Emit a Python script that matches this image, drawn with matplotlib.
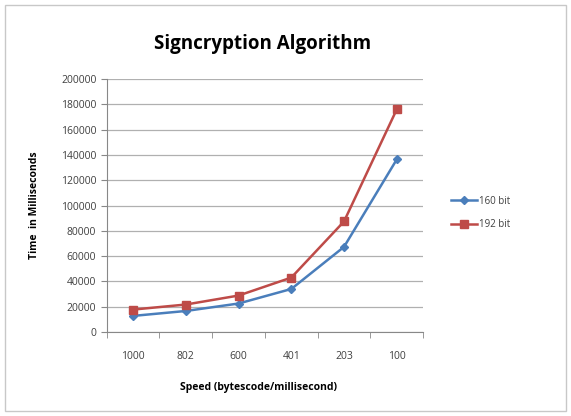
import matplotlib
matplotlib.use("Agg")
import matplotlib.pyplot as plt
from matplotlib.patches import Rectangle

speeds = ["1000", "802", "600", "401", "203", "100"]
bit160 = [12700, 16600, 22500, 34000, 67300, 136400]
bit192 = [17700, 21700, 28800, 43000, 87400, 176000]

plt.rcParams['font.family'] = ['Open Sans', 'DejaVu Sans']

fig = plt.figure(figsize=(5.71, 4.16), dpi=100)
fig.patches.append(Rectangle((0.008, 0.012), 0.984, 0.976, transform=fig.transFigure,
                             fill=False, edgecolor="#c8c8c8", linewidth=1.0))
ax = fig.add_axes([0.187, 0.202, 0.554, 0.608])

x = range(len(speeds))
ax.plot(x, bit160, color="#4a7ebb", marker="D", markersize=4, linewidth=1.8, label="160 bit")
ax.plot(x, bit192, color="#be4b48", marker="s", markersize=6, linewidth=1.8, label="192 bit")

ax.set_xlim(-0.5, len(speeds) - 0.5)
ax.set_ylim(0, 200000)
ax.set_yticks(range(0, 200001, 20000))
ax.set_xticks(list(x))
ax.set_xticklabels(speeds)
ax.set_xticks([i - 0.5 for i in range(len(speeds) + 1)], minor=True)
ax.tick_params(axis="x", which="major", length=0, pad=14, labelsize=7.5, labelcolor="#404040")
ax.tick_params(axis="x", which="minor", length=4, color="#888888")
ax.tick_params(axis="y", length=4, color="#888888", labelsize=7.5, labelcolor="#404040")
ax.yaxis.grid(True, color="#b0b0b0", linewidth=0.9)
ax.set_axisbelow(True)
for s in ["top", "right"]:
    ax.spines[s].set_visible(False)
for s in ["left", "bottom"]:
    ax.spines[s].set_color("#888888")

fig.text(0.459, 0.895, "Signcryption Algorithm", ha="center", va="center",
         fontsize=13.5, fontweight="bold")
ax.set_ylabel("Time  in Milliseconds", fontsize=7.5, fontweight="bold", labelpad=10)
fig.text(0.452, 0.068, "Speed (bytescode/millisecond)", ha="center", va="center",
         fontsize=7.5, fontweight="bold")
ax.yaxis.set_label_coords(-0.21, 0.5)

leg = fig.legend(loc="center left", bbox_to_anchor=(0.775, 0.488), frameon=False,
                 fontsize=7, handlelength=2.6, labelspacing=1.3, handletextpad=0.3)
for t in leg.get_texts():
    t.set_color("#404040")

fig.savefig("out.png", dpi=100)
